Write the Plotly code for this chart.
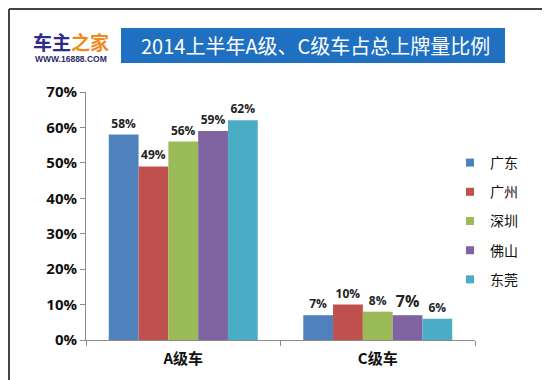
import plotly.graph_objects as go

categories = ["A级车", "C级车"]
cities = ["广东", "广州", "深圳", "佛山", "东莞"]
values = {
    "广东": [58, 7],
    "广州": [49, 10],
    "深圳": [56, 8],
    "佛山": [59, 7],
    "东莞": [62, 6],
}
colors = ["#4F81BD", "#C0504D", "#9BBB59", "#8064A2", "#4BACC6"]
y_ticks = [0, 10, 20, 30, 40, 50, 60, 70]
title_text = "2014上半年A级、C级车占总上牌量比例"

W, H = 550, 380
L, R, T, B = 78, 83, 84, 48
pw, ph = W - L - R, H - T - B

def px(x):
    return (x - L) / pw

def py(y):
    return (H - B - y) / ph

fig = go.Figure()
for i, c in enumerate(cities):
    vals = values[c]
    sizes = [16 if (c == "佛山" and j == 1) else 12 for j in range(len(vals))]
    fig.add_trace(go.Bar(
        x=categories, y=[v / 100 for v in vals], name=c,
        marker=dict(color=colors[i], line=dict(width=0)),
        text=[f"<b>{v}%</b>" for v in vals],
        textposition="outside", cliponaxis=False,
        textfont=dict(family="Open Sans, Arial", size=sizes, color="#222222"),
        showlegend=False, legendgroup=c,
    ))
    fig.add_trace(go.Scatter(
        x=[None], y=[None], mode="markers", name=c, legendgroup=c,
        marker=dict(symbol="square", size=8, color=colors[i]),
        showlegend=True,
    ))

fig.update_layout(
    width=W, height=H,
    margin=dict(l=L, r=R, t=T, b=B, pad=0),
    paper_bgcolor="white", plot_bgcolor="white",
    bargap=0.234, bargroupgap=0,
    showlegend=True,
    legend=dict(x=px(442), y=py(139), xanchor="left", yanchor="top",
                font=dict(family="Noto Sans CJK SC", size=14, color="#111111"),
                tracegroupgap=8, itemwidth=30, bgcolor="rgba(0,0,0,0)"),
    font=dict(family="Noto Sans CJK SC"),
)
fig.update_xaxes(
    type="category", showline=True, linecolor="#8C8C8C", linewidth=1,
    ticks="outside", tickson="boundaries", ticklen=5, tickcolor="#8C8C8C",
    tickfont=dict(family="Noto Sans CJK SC", size=15, color="#111111", weight="bold"),
    ticklabelstandoff=5, showgrid=False, range=[-0.5, 1.5],
)
fig.update_yaxes(
    range=[0, 0.70], tickvals=[t / 100 for t in y_ticks],
    ticktext=[f"{t}%" for t in y_ticks],
    showline=True, linecolor="#8C8C8C", linewidth=1,
    ticks="outside", ticklen=5, tickcolor="#8C8C8C",
    tickfont=dict(family="Open Sans, Arial", size=15, color="#111111", weight="bold"),
    showgrid=False, zeroline=False,
)

bx0, bx1, by0, by1 = 1, 548, 1, 378
border = dict(color="#444444", width=2)
shapes = [
    dict(type="line", xref="paper", yref="paper", x0=px(bx0), x1=px(bx1), y0=py(by0), y1=py(by0), line=border),
    dict(type="line", xref="paper", yref="paper", x0=px(bx0), x1=px(bx1), y0=py(by1), y1=py(by1), line=border),
    dict(type="line", xref="paper", yref="paper", x0=px(bx0), x1=px(bx0), y0=py(by0), y1=py(by1), line=border),
    dict(type="line", xref="paper", yref="paper", x0=px(bx1), x1=px(bx1), y0=py(by0), y1=py(by1), line=border),
    # title box
    dict(type="rect", xref="paper", yref="paper",
         x0=px(113), x1=px(497), y0=py(55), y1=py(20),
         line=dict(width=0), fillcolor="#1F70C1"),
]
annotations = [
    dict(text=title_text, xref="paper", yref="paper", x=px(307), y=py(38),
         showarrow=False, xanchor="center", yanchor="middle",
         font=dict(family="Noto Sans CJK SC", size=20, color="white")),
    dict(text="<b><span style='color:#2D2B8C'>车主</span><span style='color:#F08A1E'>之家</span></b>",
         xref="paper", yref="paper", x=px(63), y=py(33), showarrow=False,
         xanchor="center", yanchor="middle",
         font=dict(family="Noto Sans CJK SC", size=19)),
    dict(text="<b>WWW.16888.COM</b>", xref="paper", yref="paper", x=px(63), y=py(51),
         showarrow=False, xanchor="center", yanchor="middle",
         font=dict(family="Arial", size=8.5, color="#2D2B6C")),
]
fig.update_layout(shapes=shapes, annotations=annotations)

fig.write_html("out.html")
